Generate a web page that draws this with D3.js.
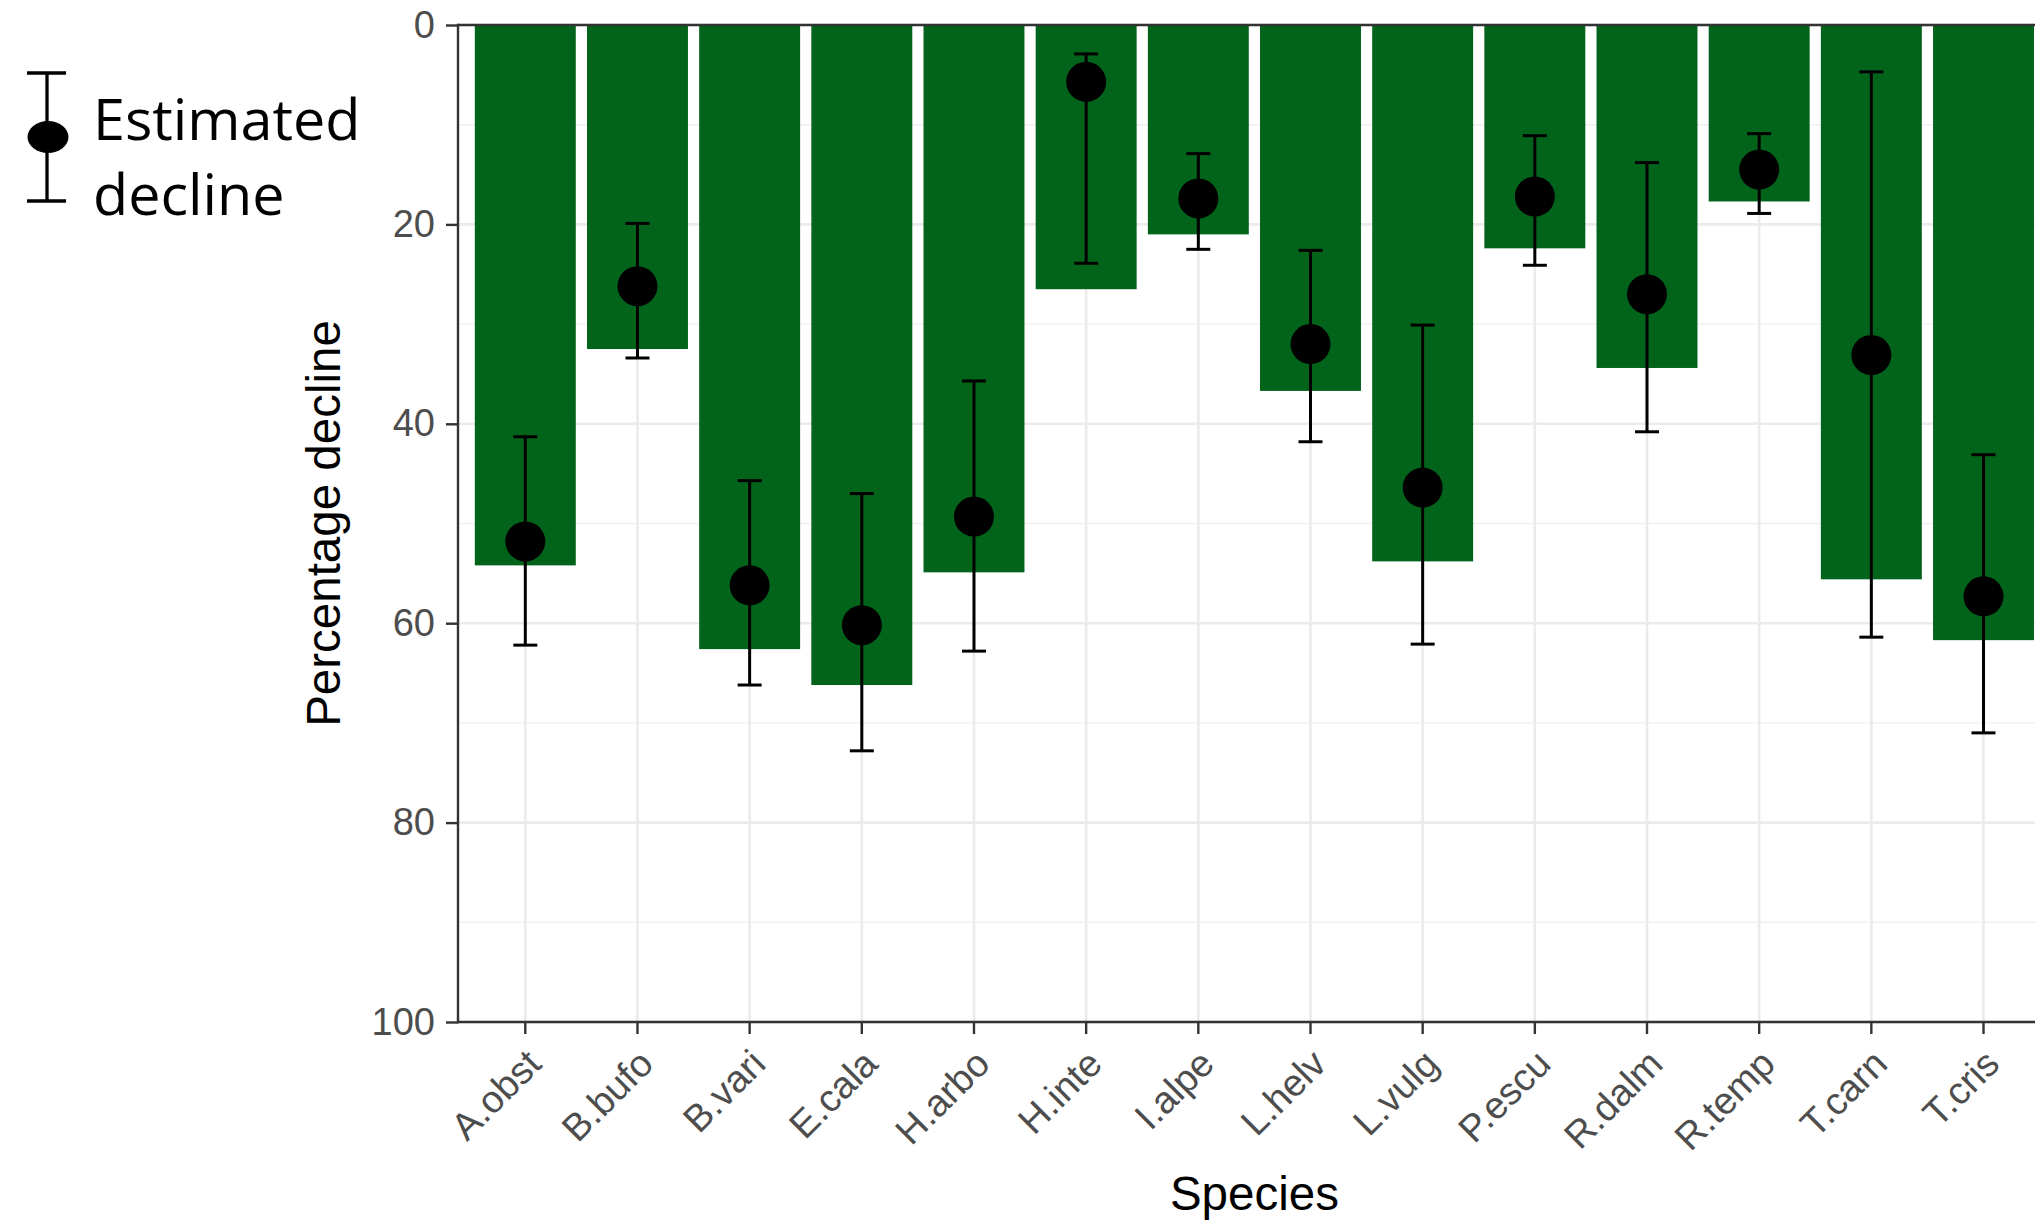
<!DOCTYPE html>
<html>
<head>
<meta charset="utf-8">
<script src="https://cdn.jsdelivr.net/npm/d3@7"></script>
<style>
  html, body { margin: 0; padding: 0; background: #ffffff; overflow: hidden; }
  svg { display: block; }
</style>
</head>
<body>
<svg id="chart" width="2035" height="1222"></svg>
<script>
// Species codes along the x axis
const species = ["A.obst", "B.bufo", "B.vari", "E.cala", "H.arbo", "H.inte", "I.alpe",
                 "L.helv", "L.vulg", "P.escu", "R.dalm", "R.temp", "T.carn", "T.cris"];
// Bar height: observed percentage decline
const barDecline = [54.2, 32.5, 62.6, 66.2, 54.9, 26.5, 21.0, 36.7, 53.8, 22.4, 34.4, 17.7, 55.6, 61.7];
// Estimated decline (point) with lower / upper interval
const estDecline = [51.8, 26.2, 56.2, 60.2, 49.3, 5.7, 17.4, 32.0, 46.4, 17.2, 27.0, 14.5, 33.1, 57.3];
const estLower   = [41.3, 19.9, 45.7, 47.0, 35.7, 2.9, 12.9, 22.6, 30.1, 11.1, 13.8, 10.9, 4.7, 43.1];
const estUpper   = [62.2, 33.4, 66.2, 72.8, 62.8, 23.9, 22.5, 41.8, 62.1, 24.1, 40.8, 18.9, 61.4, 71.0];
// Y axis ticks
const majorTicks = [0, 20, 40, 60, 80, 100];
const minorTicks = [10, 30, 50, 70, 90];

const svg = d3.select("#chart");
const panel = { left: 458, top: 25, bottom: 1022 };
const step = 112.17;
const panelRight = panel.left + step * 14.2;

const x = d3.scaleBand()
  .domain(species)
  .range([panel.left, panelRight])
  .paddingInner(0.1)
  .paddingOuter(0.15);
const cx = d => x(d) + x.bandwidth() / 2;

const y = d3.scaleLinear().domain([0, 100]).range([panel.top, panel.bottom]);

const textFont = "'Liberation Sans', Arial, sans-serif";
const axisGrey = "#333333";

// grid
const grid = svg.append("g");
grid.selectAll("line.minor").data(minorTicks).join("line")
  .attr("x1", panel.left).attr("x2", panelRight)
  .attr("y1", d => y(d)).attr("y2", d => y(d))
  .attr("stroke", "#f0f0f0").attr("stroke-width", 1.4);
grid.selectAll("line.major").data(majorTicks).join("line")
  .attr("x1", panel.left).attr("x2", panelRight)
  .attr("y1", d => y(d)).attr("y2", d => y(d))
  .attr("stroke", "#ebebeb").attr("stroke-width", 2.6);
grid.selectAll("line.vert").data(species).join("line")
  .attr("x1", d => cx(d)).attr("x2", d => cx(d))
  .attr("y1", panel.top).attr("y2", panel.bottom)
  .attr("stroke", "#ebebeb").attr("stroke-width", 2.6);

// bars
const rows = species.map((s, i) => ({
  s, bar: barDecline[i], est: estDecline[i], lo: estLower[i], hi: estUpper[i]
}));

svg.append("g").selectAll("rect").data(rows).join("rect")
  .attr("x", d => x(d.s))
  .attr("width", x.bandwidth())
  .attr("y", y(0))
  .attr("height", d => y(d.bar) - y(0))
  .attr("fill", "#02641b");

// error bars
const eb = svg.append("g").attr("stroke", "#000").attr("stroke-width", 3).attr("fill", "none");
const capHalf = 12;
eb.selectAll("line.v").data(rows).join("line")
  .attr("x1", d => cx(d.s)).attr("x2", d => cx(d.s))
  .attr("y1", d => y(d.lo)).attr("y2", d => y(d.hi));
eb.selectAll("line.lo").data(rows).join("line")
  .attr("x1", d => cx(d.s) - capHalf).attr("x2", d => cx(d.s) + capHalf)
  .attr("y1", d => y(d.lo)).attr("y2", d => y(d.lo));
eb.selectAll("line.hi").data(rows).join("line")
  .attr("x1", d => cx(d.s) - capHalf).attr("x2", d => cx(d.s) + capHalf)
  .attr("y1", d => y(d.hi)).attr("y2", d => y(d.hi));

// points
svg.append("g").selectAll("circle").data(rows).join("circle")
  .attr("cx", d => cx(d.s)).attr("cy", d => y(d.est))
  .attr("r", 20).attr("fill", "#000");

// axes
const yAxis = d3.axisLeft(y).tickValues(majorTicks).tickSize(12).tickPadding(11);
const gy = svg.append("g").attr("transform", `translate(${panel.left},0)`).call(yAxis);
gy.select(".domain").remove();
gy.selectAll(".tick line").attr("stroke", axisGrey).attr("stroke-width", 2.4);
gy.selectAll(".tick text")
  .attr("font-family", textFont).attr("font-size", 38).attr("fill", "#4d4d4d");

const xAxis = d3.axisBottom(x).tickSize(12).tickFormat(d => d);
const gx = svg.append("g").attr("transform", `translate(0,${panel.bottom})`).call(xAxis);
gx.select(".domain").remove();
gx.selectAll(".tick line").attr("stroke", axisGrey).attr("stroke-width", 2.4);
gx.selectAll(".tick text")
  .attr("font-family", textFont).attr("font-size", 38).attr("fill", "#4d4d4d")
  .attr("text-anchor", "end")
  .attr("dy", 0)
  .attr("y", 0)
  .attr("transform", "translate(18,44) rotate(-45)");

// panel lines: top, left, bottom
svg.append("line").attr("x1", panel.left).attr("x2", panelRight)
  .attr("y1", panel.top).attr("y2", panel.top)
  .attr("stroke", axisGrey).attr("stroke-width", 2.4);
svg.append("line").attr("x1", panel.left).attr("x2", panel.left)
  .attr("y1", panel.top - 1.2).attr("y2", panel.bottom + 1.2)
  .attr("stroke", axisGrey).attr("stroke-width", 2.4);
svg.append("line").attr("x1", panel.left).attr("x2", panelRight)
  .attr("y1", panel.bottom).attr("y2", panel.bottom)
  .attr("stroke", axisGrey).attr("stroke-width", 2.4);

// axis titles
svg.append("text")
  .attr("x", (panel.left + panelRight) / 2).attr("y", 1210)
  .attr("text-anchor", "middle")
  .attr("font-family", textFont).attr("font-size", 47.5).attr("fill", "#000")
  .text("Species");
svg.append("text")
  .attr("transform", `translate(340,${(panel.top + panel.bottom) / 2}) rotate(-90)`)
  .attr("text-anchor", "middle")
  .attr("font-family", textFont).attr("font-size", 47.5).attr("fill", "#000")
  .text("Percentage decline");

// legend
const lg = svg.append("g");
lg.append("line").attr("x1", 47).attr("x2", 47).attr("y1", 73).attr("y2", 201)
  .attr("stroke", "#000").attr("stroke-width", 3.3);
lg.append("line").attr("x1", 27).attr("x2", 66).attr("y1", 73).attr("y2", 73)
  .attr("stroke", "#000").attr("stroke-width", 3.3);
lg.append("line").attr("x1", 27).attr("x2", 66).attr("y1", 201).attr("y2", 201)
  .attr("stroke", "#000").attr("stroke-width", 3.3);
lg.append("ellipse").attr("cx", 48).attr("cy", 137).attr("rx", 20.5).attr("ry", 16)
  .attr("fill", "#000");
const legendFont = "'Open Sans', 'Noto Sans', sans-serif";
lg.append("text").attr("x", 93).attr("y", 140)
  .attr("font-family", legendFont).attr("font-size", 57.5).attr("fill", "#000")
  .text("Estimated");
lg.append("text").attr("x", 93).attr("y", 215)
  .attr("font-family", legendFont).attr("font-size", 57.5).attr("fill", "#000")
  .text("decline");
</script>
</body>
</html>
